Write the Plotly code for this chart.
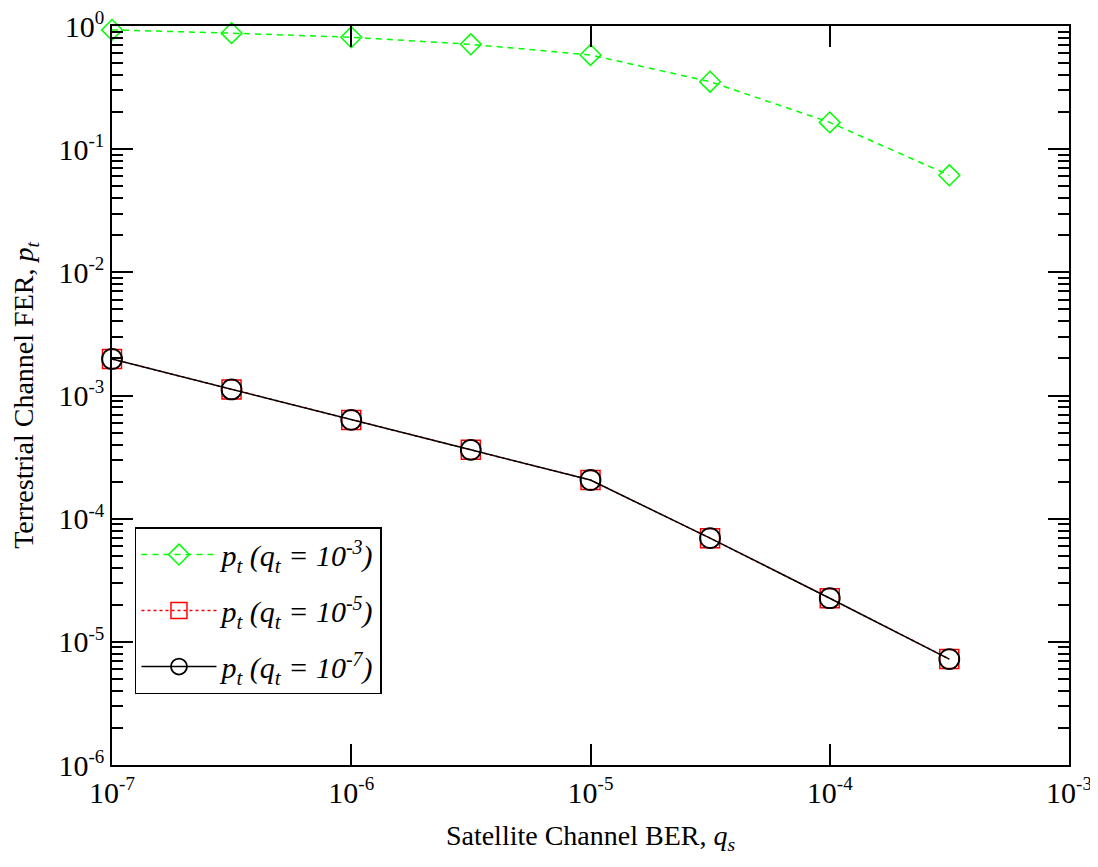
import plotly.graph_objects as go

qs = [1e-7, 3.16e-7, 1e-6, 3.16e-6, 1e-5, 3.16e-5, 1e-4, 3.16e-4]
pt_qt3 = [0.93, 0.875, 0.81, 0.71, 0.582, 0.353, 0.165, 0.0614]
pt_qt5 = [1.98e-3, 1.12e-3, 6.34e-4, 3.62e-4, 2.06e-4, 6.95e-5, 2.26e-5, 7.24e-6]
pt_qt7 = [1.98e-3, 1.12e-3, 6.34e-4, 3.62e-4, 2.06e-4, 6.95e-5, 2.26e-5, 7.24e-6]

x_exps = ["-7", "-6", "-5", "-4", "-3"]
x_tickvals = [1e-7, 1e-6, 1e-5, 1e-4, 1e-3]
y_exps = ["-6", "-5", "-4", "-3", "-2", "-1", "0"]
y_tickvals = [1e-6, 1e-5, 1e-4, 1e-3, 1e-2, 1e-1, 1]
y_minor = [m * 10.0 ** e for e in range(-6, 0) for m in range(2, 10)]


def pow_label(e):
    return "10<sup><span style='font-size:19px'>" + e + "</span></sup>"


x_ticktext = [pow_label(e) for e in x_exps]
y_ticktext = [pow_label(e) for e in y_exps]

FONT = "Liberation Serif"


def leg(e):
    return ("<i>p<sub>t</sub> (q<sub>t</sub> = 10<sup><span style='font-size:20px'>"
            + e + "</span></sup>)</i>")


fig = go.Figure()
fig.add_trace(go.Scatter(
    x=qs, y=pt_qt3, mode="lines+markers", legendgroup="a", name=leg("-3"),
    cliponaxis=False,
    line=dict(color="#00ff00", width=1.5, dash="6px,5px"),
    marker=dict(symbol="diamond-open", size=16, color="#00ff00", line=dict(width=1.5, color="#00ff00")),
))
fig.add_trace(go.Scatter(
    x=qs, y=pt_qt5, mode="lines+markers", legendgroup="b", name=leg("-5"),
    cliponaxis=False,
    line=dict(color="#ff0000", width=1.5, dash="dot"),
    marker=dict(symbol="square-open", size=19, color="#ff0000", line=dict(width=1.5, color="#ff0000")),
))
fig.add_trace(go.Scatter(
    x=qs, y=pt_qt7, mode="lines+markers", legendgroup="c", name=leg("-7"),
    cliponaxis=False,
    line=dict(color="#000000", width=1.5),
    marker=dict(symbol="circle-open", size=20, color="#000000", line=dict(width=1.8, color="#000000")),
))

axis_common = dict(
    type="log", showgrid=False, zeroline=False,
    showline=True, linecolor="black", linewidth=1.5, mirror="ticks",
    ticks="inside", ticklen=21, tickwidth=1.5, tickcolor="black",
    tickfont=dict(family=FONT, size=30, color="black"),
    ticklabeloverflow="allow", automargin=False,
)

fig.update_xaxes(
    **axis_common, range=[-7, -3], tickmode="array",
    tickvals=x_tickvals, ticktext=x_ticktext,
    title=dict(text="Satellite Channel BER, <i>q<sub>s</sub></i>",
               font=dict(family=FONT, size=28, color="black"), standoff=18),
)
fig.update_yaxes(
    **axis_common, range=[-6, 0], tickmode="array",
    tickvals=y_tickvals, ticktext=y_ticktext,
    minor=dict(ticks="inside", ticklen=11, tickwidth=1.5, tickcolor="black",
               tickmode="array", tickvals=y_minor),
    title=dict(text="Terrestrial Channel FER, <i>p<sub>t</sub></i>",
               font=dict(family=FONT, size=28, color="black"), standoff=18),
)

fig.update_layout(
    width=1098, height=867,
    margin=dict(l=104, r=37, t=18, b=110, autoexpand=False),
    paper_bgcolor="white", plot_bgcolor="white",
    font=dict(family=FONT, color="black"),
    legend=dict(
        x=0.024, y=0.322, xanchor="left", yanchor="top",
        bgcolor="white", bordercolor="black", borderwidth=1.5,
        font=dict(family=FONT, size=30, color="black"),
        tracegroupgap=14, itemwidth=75,
    ),
    showlegend=True,
)

fig.write_html("out.html")
